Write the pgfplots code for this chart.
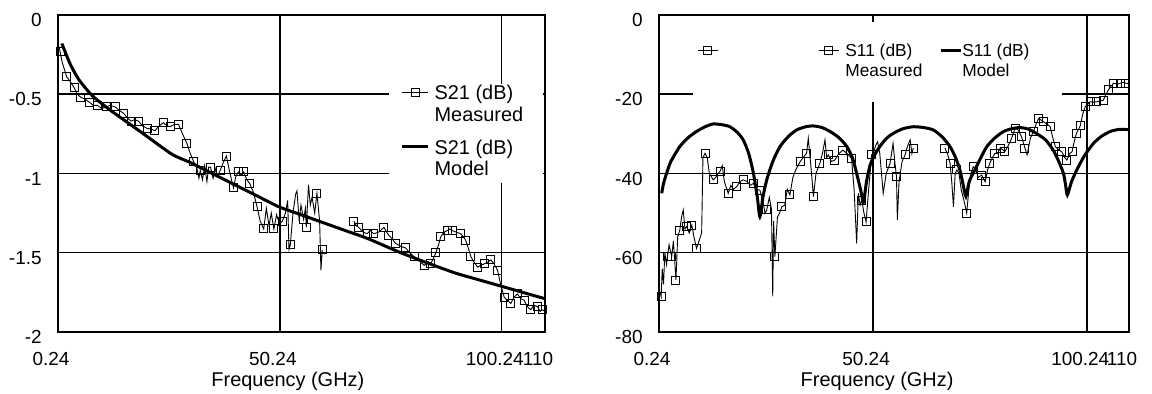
\documentclass[border=0pt]{standalone}
\usepackage{fontspec}
\setmainfont{Liberation Sans}
\usepackage{pgfplots}
\pgfplotsset{compat=1.18}
\pgfplotsset{
  myaxis/.style={
    scale only axis, anchor=south west,
    height=158.5bp,
    xmin=0.24, xmax=110,
    xtick={0.24,50.24,100.24,110},
    xticklabels={0.24,50.24,100.24,110},
    grid=major,
    grid style={black, line width=0.75bp},
    major tick length=0pt,
    axis line style={line width=1bp},
    tick label style={font=\fontsize{9.5}{11}\selectfont},
    xticklabel style={anchor=base, inner sep=0pt, yshift=-16.5bp, xshift=-3.5bp},
    yticklabel style={anchor=east, inner sep=0pt, xshift=-8bp, yshift=-2.5bp},
    xlabel={Frequency (GHz)},
    xlabel style={font=\fontsize{10}{12}\selectfont, at={(axis description cs:0.472,0)}, anchor=base, yshift=-27bp, inner sep=0pt},
    unbounded coords=jump,
  },
  meas/.style={black, line width=0.45bp},
  measmk/.style={only marks, mark=square, mark size=2bp, mark options={line width=0.5bp, black}},
  model/.style={black, line width=1.5bp, smooth, tension=0.4},
}
\begin{document}
\begin{tikzpicture}
\useasboundingbox (0,0) rectangle (576bp,197bp);
% ---------------- left: S21 ----------------
\begin{axis}[myaxis, at={(29bp,31bp)}, width=243.5bp,
  ymin=-2, ymax=0, ytick={-2,-1.5,-1,-0.5,0}, yticklabels={-2,-1.5,-1,-0.5,0},
  every axis legend/.style={shape=rectangle, draw=none, fill=white,
    at={(axis description cs:0.678,0.784)}, anchor=north west,
    inner xsep=6bp, inner ysep=0bp, row sep=5.5bp,
    cells={anchor=base west}, nodes={inner sep=0pt},
    font=\fontsize{10}{11}\selectfont},
  legend image code/.code={\draw[mark repeat=2,mark phase=2,#1] plot coordinates {(0bp,3.6bp)(6.5bp,3.6bp)(13bp,3.6bp)};},
]
\addplot[model, forget plot] coordinates {
(1.1,-0.18)(3,-0.31)(5,-0.41)(8,-0.51)(12,-0.60)(16,-0.68)(20,-0.76)(26,-0.88)(30,-0.93)(35,-1.00)(40,-1.07)(45,-1.14)(50,-1.21)(55,-1.26)(60,-1.31)(65,-1.36)(70,-1.41)(77.5,-1.50)(85,-1.58)(90,-1.63)(95,-1.67)(100,-1.71)(105,-1.75)(110,-1.79)};
\addplot[meas, forget plot] coordinates {
(0.5,-0.20)(0.7,-0.23)(1.2,-0.30)(2.2,-0.39)(3.0,-0.42)(3.9,-0.46)(4.6,-0.50)(5.4,-0.52)(6.3,-0.53)(7.3,-0.55)(8.2,-0.57)(9.1,-0.57)(10.1,-0.59)(11.1,-0.58)(12.0,-0.57)(13.1,-0.58)(14.0,-0.60)(15.0,-0.62)(15.9,-0.65)(16.7,-0.67)(17.5,-0.66)(18.4,-0.67)(19.3,-0.70)(20.3,-0.715)(21.2,-0.72)(22.1,-0.73)(23.0,-0.70)(24.0,-0.68)(24.8,-0.70)(25.5,-0.705)(26.5,-0.69)(27.4,-0.69)(28.3,-0.75)(29.3,-0.81)(30.0,-0.87)(30.8,-0.925)(31.5,-0.96)(32.0,-1.03)(32.3,-0.98)(32.8,-1.04)(33.3,-0.95)(33.8,-1.05)(34.2,-0.96)(34.6,-0.96)(35.2,-1.03)(35.7,-0.97)(36.2,-1.02)(36.8,-0.98)(37.5,-0.93)(38.2,-0.89)(39.0,-1.0)(39.8,-1.09)(40.3,-1.02)(40.9,-0.99)(41.5,-1.01)(42.1,-0.99)(42.8,-1.04)(43.4,-1.06)(44.3,-1.12)(45.1,-1.21)(45.8,-1.30)(46.6,-1.35)(47.2,-1.22)(47.8,-1.33)(48.3,-1.25)(48.9,-1.35)(49.5,-1.26)(50.2,-1.32)(50.8,-1.30)(51.5,-1.25)(52.0,-1.17)(52.3,-1.48)(52.6,-1.45)(53.2,-1.25)(53.8,-1.13)(54.1,-1.11)(54.6,-1.30)(55.0,-1.20)(55.6,-1.29)(56.0,-1.22)(56.2,-1.34)(56.7,-1.07)(57.1,-1.20)(57.5,-1.15)(58.1,-1.25)(58.6,-1.125)(59.2,-1.30)(59.5,-1.61)(59.8,-1.48)
(63,nan)
(66.9,-1.30)(67.5,-1.33)(68.0,-1.34)(69.0,-1.37)(69.9,-1.38)(70.6,-1.36)(71.4,-1.38)(72.5,-1.37)(73.7,-1.34)(74.3,-1.37)(74.8,-1.39)(75.5,-1.41)(76.3,-1.44)(77.5,-1.46)(78.6,-1.47)(79.5,-1.50)(80.5,-1.525)(81.6,-1.55)(82.8,-1.58)(83.5,-1.56)(84.2,-1.57)(84.8,-1.54)(85.4,-1.50)(86.0,-1.45)(86.5,-1.40)(87.2,-1.37)(88.0,-1.36)(88.6,-1.35)(89.1,-1.36)(90.0,-1.37)(91.0,-1.38)(91.6,-1.40)(92.1,-1.42)(92.7,-1.47)(93.3,-1.525)(94.0,-1.56)(94.8,-1.59)(95.5,-1.58)(96.3,-1.57)(97.0,-1.56)(97.8,-1.545)(98.5,-1.57)(99.3,-1.61)(100.0,-1.70)(100.8,-1.78)(101.5,-1.80)(102.3,-1.82)(103.0,-1.78)(103.8,-1.76)(104.5,-1.79)(105.3,-1.80)(106.0,-1.84)(106.8,-1.86)(107.5,-1.83)(108.3,-1.84)(108.9,-1.87)(109.4,-1.86)(110,-1.87)};
\addplot[measmk, forget plot] coordinates {
(0.7,-0.23)(2.2,-0.39)(3.9,-0.46)(5.4,-0.52)(7.3,-0.55)(9.1,-0.57)(11.1,-0.58)(13.1,-0.58)(15.0,-0.62)(16.7,-0.67)(18.4,-0.67)(20.3,-0.715)(22.1,-0.73)(24.0,-0.68)(25.5,-0.705)(27.4,-0.69)(29.3,-0.81)(30.8,-0.925)(32.3,-0.98)(34.6,-0.96)(36.8,-0.98)(38.2,-0.89)(39.8,-1.09)(40.9,-0.99)(42.1,-0.99)(43.4,-1.06)(45.1,-1.21)(46.6,-1.35)(48.9,-1.35)(50.8,-1.30)(52.6,-1.45)(55.6,-1.29)(56.2,-1.34)(58.6,-1.125)(59.8,-1.48)
(66.9,-1.30)(68.0,-1.34)(69.9,-1.38)(71.4,-1.38)(73.7,-1.34)(74.8,-1.39)(76.3,-1.44)(78.6,-1.47)(80.5,-1.525)(82.8,-1.58)(84.2,-1.57)(85.4,-1.50)(86.5,-1.40)(88.0,-1.36)(89.1,-1.36)(91.0,-1.38)(92.1,-1.42)(93.3,-1.525)(94.8,-1.59)(96.3,-1.57)(97.8,-1.545)(99.3,-1.61)(100.8,-1.78)(102.3,-1.82)(103.8,-1.76)(105.3,-1.80)(106.8,-1.86)(108.3,-1.84)(109.4,-1.86)};
\addlegendimage{black, line width=0.5bp, mark=square, mark size=2bp}
\addlegendentry{\begin{tabular}[t]{@{\hspace{2.5bp}}p{48bp}@{}}S21 (dB)\\Measured\end{tabular}}
\addlegendimage{black, line width=1.5bp}
\addlegendentry{\begin{tabular}[t]{@{\hspace{2.5bp}}p{48bp}@{}}S21 (dB)\\Model\end{tabular}}
\end{axis}
% ---------------- right: S11 ----------------
\begin{axis}[myaxis, at={(329.5bp,31bp)}, width=235bp,
  ymin=-80, ymax=0, ytick={-80,-60,-40,-20,0}, yticklabels={-80,-60,-40,-20,0},
  xlabel style={at={(axis description cs:0.464,0)}},
  legend columns=3,
  every axis legend/.style={shape=rectangle, draw=none, fill=white,
    at={(axis description cs:0.0723,0.978)}, anchor=north west,
    inner xsep=2bp, inner ysep=10bp,
    cells={anchor=base west}, nodes={inner sep=0pt},
    font=\fontsize{8.7}{10}\selectfont},
  legend image code/.code={\draw[mark repeat=2,mark phase=2,#1] plot coordinates {(0bp,3.1bp)(5bp,3.1bp)(10bp,3.1bp)};},
]
\addplot[model, forget plot] coordinates {
(0.87,-45)(1.3,-42.5)(2.0,-40)(3.0,-37)(5.1,-33.2)(7.0,-31)(9.0,-29.4)(11.0,-28.2)(12.9,-27.5)(15.0,-27.7)(16.8,-28.2)(18.5,-29.6)(19.9,-31.5)(21.2,-35)(22.3,-40)(23.2,-46)(23.8,-50.9)(24.5,-46)(25.4,-41.6)(26.8,-37)(28.5,-33.2)(30.5,-30.6)(32.4,-29.0)(34.5,-28.2)(36.3,-28.0)(38.3,-28.4)(40.2,-29.4)(42.3,-31)(44.1,-33.2)(45.4,-36)(46.4,-40)(47.3,-44)(48.0,-47.1)(48.7,-42)(49.5,-38)(50.5,-35.5)(51.8,-33.2)(53.3,-31.2)(54.9,-29.9)(57.2,-28.7)(59.6,-28.2)(62.0,-28.4)(64.3,-29.0)(66.4,-30.8)(68.2,-33.2)(69.5,-36)(70.5,-39.1)(71.3,-43)(71.9,-45.8)(72.7,-42)(74.0,-39.1)(75.4,-36)(76.8,-33.2)(78.7,-31)(80.7,-29.4)(82.6,-28.7)(84.5,-28.4)(86.5,-28.8)(88.4,-29.9)(90.5,-31.5)(92.3,-34.1)(93.6,-37)(94.7,-40)(95.2,-43)(95.6,-45.4)(96.6,-42)(97.8,-39.1)(99.6,-35.5)(101.7,-32.4)(103.6,-30.6)(105.6,-29.4)(107.5,-28.9)(109.5,-28.9)(110,-28.9)};
\addplot[meas, forget plot] coordinates {
(0.5,-70)(0.74,-71.1)(1.0,-64)(1.3,-68)(1.6,-60)(2.0,-63)(2.2,-61)(2.6,-58)(3.2,-61)(3.6,-57)(4.2,-66.9)(4.6,-56)(5.1,-54.3)(5.5,-51)(5.9,-49.2)(6.3,-54)(6.7,-53.4)(7.3,-55)(7.9,-53)(8.4,-56)(9.0,-58.9)(9.6,-57)(10.2,-55)(10.5,-36)(11.0,-34.9)(11.5,-36)(12.0,-40)(12.9,-41.6)(13.5,-41)(14.0,-40)(14.5,-39.5)(15.0,-38)(15.5,-42)(16.4,-45)(17.0,-43)(17.6,-44)(18.4,-43.3)(19.2,-42)(19.9,-41.6)(20.8,-42)(21.5,-43)(22.3,-42.5)(23.0,-44)(23.8,-44.2)(24.5,-47)(25.0,-50)(25.4,-49.2)(26.0,-46)(26.5,-49)(26.8,-71)(27.0,-52)(27.3,-61)(27.9,-51)(28.4,-50)(28.9,-48.4)(29.6,-48)(30.2,-44)(30.8,-45.4)(31.5,-41)(32.2,-39)(33.2,-37)(33.9,-36)(34.7,-34.9)(35.1,-31.1)(35.7,-38)(36.3,-45.8)(36.9,-40)(37.8,-37.4)(38.4,-35)(39.0,-31.5)(39.4,-36)(39.8,-35.3)(40.5,-37)(41.3,-36.6)(42.2,-35)(43.2,-34.1)(44.2,-35)(45.2,-36.2)(45.8,-44)(46.4,-57.6)(46.8,-45)(47.2,-48)(47.6,-46.7)(48.1,-50)(48.6,-52.2)(49.2,-44)(49.9,-35.3)(50.3,-34.9)(50.8,-33)(51.3,-32)(51.8,-35)(52.6,-45)(53.3,-40)(54.2,-37.4)(54.9,-32.4)(55.3,-37)(55.7,-40.8)(55.9,-51.7)(56.3,-42)(57.0,-37)(57.7,-35.3)(58.3,-33)(58.9,-31.5)(59.3,-35)(59.6,-33.6)
(63,nan)
(67.0,-33.6)(67.6,-35)(68.2,-37.4)(68.6,-42)(69.0,-48.4)(69.4,-40)(69.8,-39.1)(70.3,-40)(70.8,-44)(71.5,-47)(72.1,-50)(72.6,-44)(73.1,-40)(73.6,-38.3)(74.2,-39)(74.8,-41)(75.6,-40.4)(76.4,-42.1)(77.0,-39)(77.5,-37.4)(78.1,-36)(78.7,-34.9)(79.3,-35)(79.9,-33.6)(80.5,-34)(81.0,-34.5)(81.8,-33)(82.6,-31.1)(83.4,-28.6)(84.1,-29)(84.9,-30.7)(85.7,-33.6)(86.2,-35.3)(87.0,-31)(87.7,-29.4)(88.3,-27.5)(88.9,-26.1)(90.0,-26.9)(90.8,-27.5)(91.6,-28.2)(92.2,-31)(92.8,-33.2)(93.5,-34)(94.3,-34.5)(95.0,-36)(95.5,-36.6)(96.1,-35)(96.7,-34.5)(97.2,-32)(97.7,-29.9)(98.6,-28.0)(99.2,-25)(99.8,-23.1)(100.4,-22.5)(100.9,-21.9)(101.7,-22)(102.5,-21.9)(103.3,-21.7)(104.0,-21.5)(104.6,-20)(105.2,-18.9)(105.8,-18)(106.4,-17.2)(107.2,-17.5)(108.0,-17.2)(108.6,-17)(109.1,-17.2)(110,-17.3)};
\addplot[measmk, forget plot] coordinates {
(0.74,-71.1)(2.2,-61)(3.2,-61)(4.2,-66.9)(5.1,-54.3)(6.7,-53.4)(7.9,-53)(9.0,-58.9)(11.0,-34.9)(12.9,-41.6)(14.5,-39.5)(16.4,-45)(18.4,-43.3)(19.9,-41.6)(22.3,-42.5)(23.8,-44.2)(25.4,-49.2)(27.3,-61)(28.9,-48.4)(30.8,-45.4)(33.2,-37)(34.7,-34.9)(36.3,-45.8)(37.8,-37.4)(39.8,-35.3)(41.3,-36.6)(43.2,-34.1)(45.2,-36.2)(47.6,-46.7)(48.6,-52.2)(49.9,-35.3)(54.2,-37.4)(55.7,-40.8)(57.7,-35.3)(59.6,-33.6)
(67.0,-33.6)(68.2,-37.4)(69.8,-39.1)(72.1,-50)(73.6,-38.3)(75.6,-40.4)(76.4,-42.1)(77.5,-37.4)(78.7,-34.9)(79.9,-33.6)(81.0,-34.5)(82.6,-31.1)(83.4,-28.6)(84.9,-30.7)(85.7,-33.6)(87.7,-29.4)(88.9,-26.1)(90.0,-26.9)(91.6,-28.2)(92.8,-33.2)(94.3,-34.5)(95.5,-36.6)(96.7,-34.5)(97.7,-29.9)(98.6,-28.0)(99.8,-23.1)(100.9,-21.9)(102.5,-21.9)(104.0,-21.5)(105.2,-18.9)(106.4,-17.2)(108.0,-17.2)(109.1,-17.2)};
\addlegendimage{black, line width=0.5bp, mark=square, mark size=2bp}
\addlegendentry{\hspace*{50bp}}
\addlegendimage{black, line width=0.5bp, mark=square, mark size=2bp}
\addlegendentry{\begin{tabular}[t]{@{\hspace{3bp}}p{47bp}@{}}S11 (dB)\\Measured\end{tabular}}
\addlegendimage{black, line width=1.5bp}
\addlegendentry{\begin{tabular}[t]{@{}p{48bp}@{}}S11 (dB)\\Model\end{tabular}}
\end{axis}
\end{tikzpicture}
\end{document}
